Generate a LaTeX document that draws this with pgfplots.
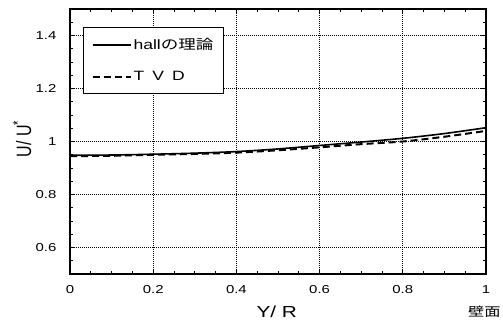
\documentclass[border=0pt]{standalone}
\usepackage{fontspec}
\setmainfont{Liberation Sans}[FakeStretch=1.3]
\newfontfamily\plainsans{Liberation Sans}
\newfontfamily\jp{Noto Sans CJK JP}[FakeStretch=1.3]
\usepackage{pgfplots}
\pgfplotsset{compat=1.18}
\begin{document}
\begin{tikzpicture}
\begin{axis}[
  scale only axis,
  width=416pt, height=265pt,
  xmin=0, xmax=1, ymin=0.5, ymax=1.5,
  xtick={0,0.2,0.4,0.6,0.8,1},
  ytick={0.4,0.6,0.8,1,1.2,1.4,1.6},
  minor x tick num=3,
  minor y tick num=3,
  tick align=inside,
  major tick length=5pt,
  minor tick length=3pt,
  tick style={black, line width=0.8pt},
  axis line style={line width=1.2pt},
  grid=major,
  major grid style={black, line width=0.7pt, dash pattern=on 0.8pt off 1.2pt},
  /pgf/number format/assume math mode=true,
  ticklabel style={font=\fontsize{11.5}{13}\selectfont},
  yticklabel style={xshift=-10pt},
  xticklabel style={yshift=-8pt},
  xlabel={Y/ R},
  ylabel={\plainsans\scalebox{1}[1.3]{U/ U\textsuperscript{*}}},
  label style={font=\fontsize{16}{18}\selectfont},
  xlabel style={at={(axis description cs:0.497,-0.143)}, anchor=center},
  ylabel style={at={(axis description cs:-0.115,0.51)}, anchor=center},
  legend style={at={(axis description cs:0.031,0.932)}, anchor=north west,
    draw=black, line width=1.3pt, fill=white,
    font=\fontsize{13.5}{15}\selectfont,
    inner xsep=8pt, inner ysep=9pt, row sep=16pt, cells={anchor=west}},
  legend cell align=left,
  legend image code/.code={\draw[#1] (0pt,0pt) -- (38pt,0pt);},
  clip=false,
]
\addplot[black, line width=1.6pt, smooth] coordinates {
  (0,0.948) (0.1,0.949) (0.2,0.952) (0.3,0.956) (0.4,0.962) (0.5,0.972)
  (0.6,0.985) (0.7,0.998) (0.8,1.012) (0.9,1.030) (1.0,1.052)
};
\addlegendentry{hall{\jp の理論}}
\addplot[black, line width=2pt, smooth, dash pattern=on 7pt off 4pt] coordinates {
  (0,0.945) (0.1,0.946) (0.2,0.950) (0.3,0.953) (0.4,0.958) (0.5,0.967)
  (0.6,0.978) (0.7,0.990) (0.8,1.000) (0.9,1.018) (1.0,1.040)
};
\addlegendentry{T\hspace{0.6em}V\hspace{0.6em}D}
\node[anchor=west, inner sep=0pt, font=\jp\fontsize{12.5}{14}\selectfont] at ([xshift=-18pt, yshift=-38pt] rel axis cs:1,0) {壁面};
\end{axis}
\pgfresetboundingbox
\useasboundingbox (-70pt,-48pt) rectangle (433pt,274pt);
\end{tikzpicture}
\end{document}
